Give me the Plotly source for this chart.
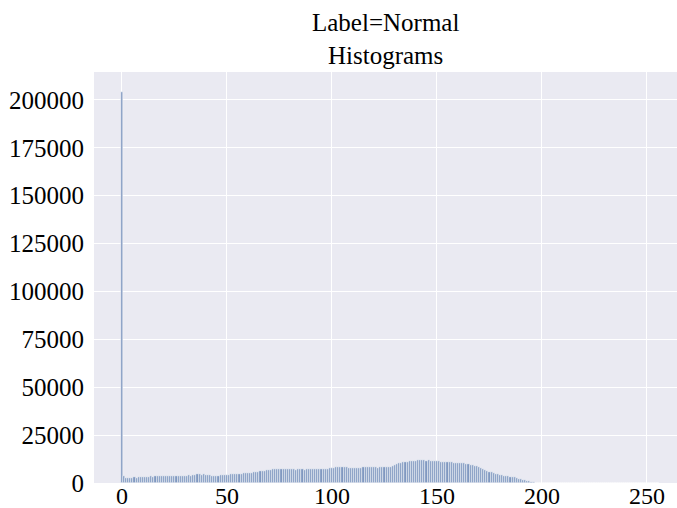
import plotly.graph_objects as go

pixel_values = list(range(256))
counts_0_to_50 = [204000, 3900,
                  2700, 2500, 2600, 2800, 2900, 2800, 3000, 3100, 3000,
                  3200, 3100, 3300, 3400, 3300, 3500, 3400, 3500, 3600, 3500,
                  3600, 3700, 3600, 3500, 3600, 3500, 3600, 3700, 3800, 3700,
                  3900, 4000, 3900, 4200, 4300, 4500, 4600, 4400, 4500, 4300,
                  4100, 4000, 3900, 3800, 3900, 3800, 4000, 4100, 4200, 4300]
counts_51_to_100 = [4400, 4500, 4600, 4700, 4800, 4700, 4900, 5000, 5100, 5000,
                    5200, 5300, 5500, 5700, 5900, 6100, 6300, 6500, 6700, 6900,
                    7000, 7100, 7100, 7200, 7100, 7200, 7200, 7100, 7200, 7100,
                    7200, 7100, 7000, 7100, 7200, 7100, 7000, 7100, 7200, 7300,
                    7200, 7100, 7200, 7300, 7400, 7500, 7400, 7500, 7600, 7800]
counts_101_to_150 = [7900, 8100, 8200, 8100, 8300, 8200, 8100, 8000, 7900, 8000,
                     7800, 7700, 7800, 8000, 8200, 8300, 8100, 8200, 8400, 8300,
                     8100, 8000, 8200, 8100, 8200, 8300, 8400, 8600, 9000, 9500,
                     9900, 10300, 10600, 10800, 11000, 11200, 11400, 11500, 11600, 11700,
                     11800, 11900, 11800, 11900, 11700, 11800, 11600, 11500, 11400, 11300]
counts_151_to_198 = [11400, 11200, 11100, 11000, 11000, 10900, 10800, 10700, 10600, 10500,
                     10400, 10300, 10200, 10000, 9800, 9600, 9400, 9100, 8800, 8400,
                     8000, 7500, 7000, 6500, 6000, 5500, 5100, 4800, 4500, 4300,
                     4100, 3900, 3700, 3500, 3300, 3100, 2900, 2600, 2300, 2000,
                     1700, 1400, 1100, 800, 600, 400, 250, 100]
counts_199_to_255 = [0] * 57
counts = counts_0_to_50 + counts_51_to_100 + counts_101_to_150 + counts_151_to_198 + counts_199_to_255

x_ticks = [0, 50, 100, 150, 200, 250]
y_ticks = [0, 25000, 50000, 75000, 100000, 125000, 150000, 175000, 200000]
title_lines = ["Label=Normal", "Histograms"]

fig = go.Figure(go.Bar(
    x=pixel_values, y=counts, width=1,
    marker=dict(color="#8098c0", line=dict(color="white", width=0.5)),
))

font_family = "Liberation Serif, Times New Roman, serif"
fig.update_layout(
    width=677, height=508,
    margin=dict(l=94, r=0, t=72, b=25),
    paper_bgcolor="white", plot_bgcolor="#eaeaf2",
    showlegend=False, bargap=0,
    font=dict(family=font_family, size=25, color="black"),
    annotations=[
        dict(text=title_lines[0], x=0.5, y=1, xref="paper", yref="paper",
             yshift=50, showarrow=False, font=dict(size=25, family=font_family),
             xanchor="center", yanchor="middle"),
        dict(text=title_lines[1], x=0.5, y=1, xref="paper", yref="paper",
             yshift=17, showarrow=False, font=dict(size=25, family=font_family),
             xanchor="center", yanchor="middle"),
    ],
)
fig.update_xaxes(range=[-13.3, 264.3], tickvals=x_ticks, showgrid=True,
                 gridcolor="white", gridwidth=1.3, zeroline=False, showline=False,
                 ticks="", ticklabelstandoff=-4, automargin=False,
                 tickfont=dict(size=24))
fig.update_yaxes(range=[0, 214600], tickvals=y_ticks, tickformat="d", showgrid=True,
                 gridcolor="white", gridwidth=1.3, zeroline=False, showline=False,
                 ticks="", ticklabelstandoff=9, automargin=False)

fig.write_html("out.html")
